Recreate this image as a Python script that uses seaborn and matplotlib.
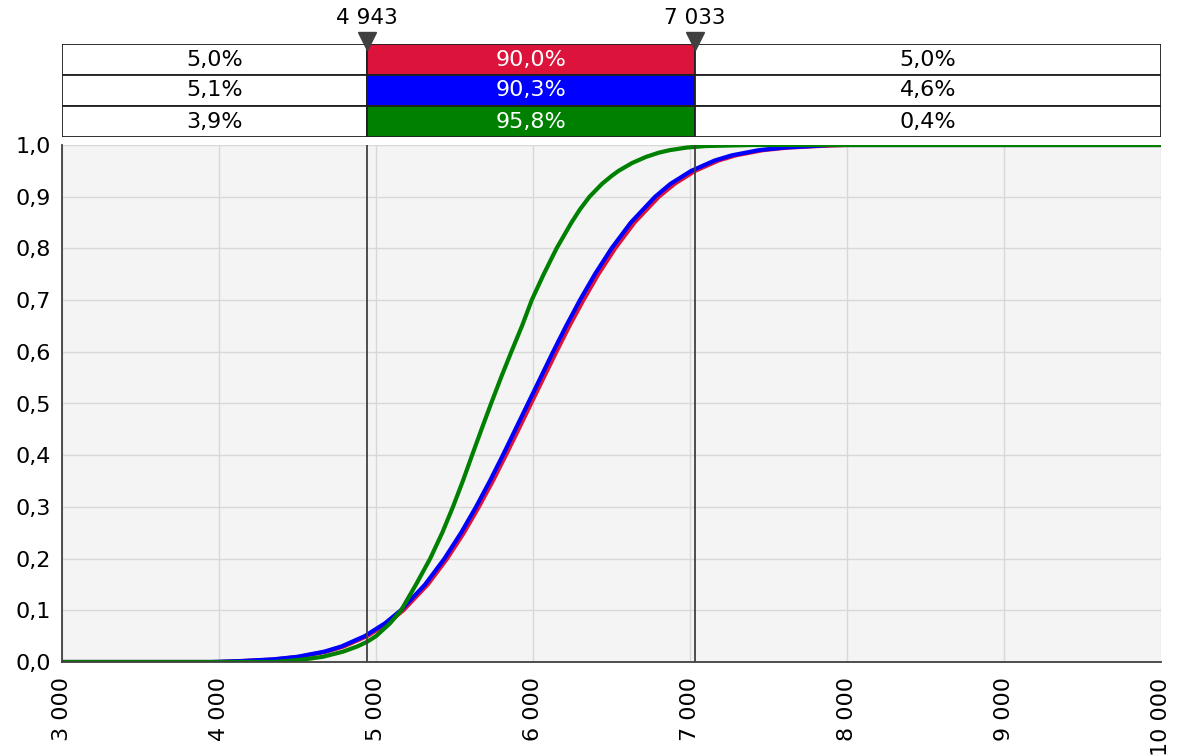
import numpy as np
import pandas as pd
import matplotlib
matplotlib.use("Agg")
import matplotlib.pyplot as plt
from matplotlib.ticker import FuncFormatter, MultipleLocator
import seaborn as sns

sns.set_style("white")
plt.rcParams['font.family'] = ['DejaVu Sans']

# ---------------- DATA ---------------- #
# cumulative curves as (value, probability) pairs
red_x = [3000, 4000, 4160, 4352, 4511, 4684, 4794, 4943, 5074, 5174, 5330, 5453, 5560, 5655, 5744, 5827, 5908,
         5988, 6068, 6149, 6232, 6321, 6416, 6523, 6646, 6802, 6902, 7033, 7182, 7292, 7465, 7624, 7816, 8000, 10000]
red_p = [0.0, 0.0, 0.002, 0.005, 0.01, 0.02, 0.03, 0.05, 0.075, 0.10, 0.15, 0.20, 0.25, 0.30, 0.35, 0.40, 0.45,
         0.50, 0.55, 0.60, 0.65, 0.70, 0.75, 0.80, 0.85, 0.90, 0.925, 0.95, 0.97, 0.98, 0.99, 0.995, 0.998, 1.0, 1.0]

blue_x = [3000, 3950, 4149, 4340, 4498, 4670, 4779, 4928, 5058, 5158, 5313, 5436, 5542, 5637, 5725, 5808, 5888,
          5968, 6048, 6128, 6211, 6299, 6394, 6500, 6623, 6778, 6876, 7008, 7157, 7266, 7438, 7596, 7787, 7900, 10000]
blue_p = [0.0, 0.0, 0.002, 0.005, 0.01, 0.02, 0.03, 0.05, 0.075, 0.10, 0.15, 0.20, 0.25, 0.30, 0.35, 0.40, 0.45,
          0.50, 0.55, 0.60, 0.65, 0.70, 0.75, 0.80, 0.85, 0.90, 0.925, 0.95, 0.97, 0.98, 0.99, 0.995, 0.998, 1.0, 1.0]

green_x = [3000, 4350, 4440, 4540, 4660, 4790, 4880, 4943, 5000, 5090, 5160, 5255, 5345, 5422, 5490, 5553, 5612,
           5672, 5733, 5796, 5862, 5930, 5992, 6068, 6150, 6245, 6298, 6360, 6440, 6500, 6545, 6630, 6720, 6800,
           6870, 6978, 7100, 7400, 10000]
green_p = [0.0, 0.0, 0.002, 0.005, 0.01, 0.02, 0.03, 0.039, 0.05, 0.075, 0.10, 0.15, 0.20, 0.25, 0.30, 0.35, 0.40,
           0.45, 0.50, 0.55, 0.60, 0.65, 0.70, 0.75, 0.80, 0.85, 0.875, 0.90, 0.925, 0.94, 0.95, 0.965, 0.977, 0.985,
           0.99, 0.995, 0.998, 1.0, 1.0]

# band table above the chart
lo_mark, hi_mark = 4943, 7033
row_colors = ["#DC143C", "#0000FF", "#008000"]
left_pct = ["5,0%", "5,1%", "3,9%"]
mid_pct = ["90,0%", "90,3%", "95,8%"]
right_pct = ["5,0%", "4,6%", "0,4%"]

x_min, x_max = 3000, 10000

# ---------------- FIGURE ---------------- #
W, H = 1178, 756
fig = plt.figure(figsize=(W / 100, H / 100), dpi=100)

def px_axes(x0, y0, x1, y1):
    return fig.add_axes([x0 / W, 1 - y1 / H, (x1 - x0) / W, (y1 - y0) / H])

ax = px_axes(62, 145, 1161, 662)
ax_t = px_axes(62, 44, 1161, 137)

# main plot
ax.set_facecolor("#f4f4f4")
for xs, ps, col in [(red_x, red_p, row_colors[0]), (blue_x, blue_p, row_colors[1]), (green_x, green_p, row_colors[2])]:
    df = pd.DataFrame({"x": xs, "p": ps})
    sns.lineplot(data=df, x="x", y="p", ax=ax, color=col, lw=3, estimator=None, sort=False)

for m in (lo_mark, hi_mark):
    ax.axvline(m, color="#404040", lw=1.3, zorder=5)

ax.set_xlim(x_min, x_max)
ax.set_ylim(0, 1)
ax.xaxis.set_major_locator(MultipleLocator(1000))
ax.yaxis.set_major_locator(MultipleLocator(0.1))
ax.xaxis.set_major_formatter(FuncFormatter(lambda v, _: f"{v:,.0f}".replace(",", " ")))
ax.yaxis.set_major_formatter(FuncFormatter(lambda v, _: f"{v:.1f}".replace(".", ",")))
ax.grid(True, color="#d8d8d8", lw=1)
ax.set_axisbelow(True)
ax.set_xlabel("")
ax.set_ylabel("")
for s in ("top", "right"):
    ax.spines[s].set_visible(False)
for s in ("left", "bottom"):
    ax.spines[s].set_color("#404040")
    ax.spines[s].set_linewidth(1.3)
ax.tick_params(axis="both", direction="out", length=6, width=1.2, color="#404040", labelsize=16, labelcolor="black")
ax.tick_params(axis="x", labelrotation=90, pad=5)
ax.tick_params(axis="y", pad=2)

# band table
ax_t.set_xlim(x_min, x_max)
ax_t.set_ylim(0, 3)
ax_t.axis("off")
for i in range(3):
    y = 2.5 - i
    ax_t.barh(y, lo_mark - x_min, left=x_min, height=1, color="white", edgecolor="#202020", lw=1.3)
    ax_t.barh(y, hi_mark - lo_mark, left=lo_mark, height=1, color=row_colors[i], edgecolor="#202020", lw=1.3)
    ax_t.barh(y, x_max - hi_mark, left=hi_mark, height=1, color="white", edgecolor="#202020", lw=1.3)
    ax_t.text((x_min + lo_mark) / 2, y, left_pct[i], ha="center", va="center", fontsize=16, color="black")
    ax_t.text((lo_mark + hi_mark) / 2, y, mid_pct[i], ha="center", va="center", fontsize=16, color="white")
    ax_t.text((hi_mark + x_max) / 2, y, right_pct[i], ha="center", va="center", fontsize=16, color="black")

for m in (lo_mark, hi_mark):
    ax_t.plot([m], [3.1], marker="v", ms=13, color="#404040", clip_on=False, zorder=6)
    ax_t.text(m, 3.5, f"{m:,}".replace(",", " "), ha="center", va="bottom", fontsize=15.5, color="black")

fig.savefig("out.png", dpi=100)
